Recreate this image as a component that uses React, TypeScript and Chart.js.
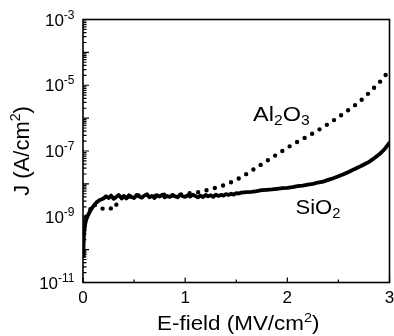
import React, { useEffect, useRef } from "react";
import { Chart, registerables } from "chart.js";

Chart.register(...registerables);

// SiO2 (solid line)
const E_SIO2 = [
  0, 0.005, 0.01, 0.02, 0.03, 0.05, 0.07, 0.1, 0.13, 0.16,
  0.2, 0.225, 0.25, 0.275, 0.3, 0.325, 0.35, 0.375, 0.4, 0.425, 0.45, 0.475, 0.5, 0.525, 0.55,
  0.575, 0.6, 0.625, 0.65, 0.675, 0.7, 0.725, 0.75, 0.775, 0.8, 0.825, 0.85, 0.875, 0.9, 0.925,
  0.95, 0.975, 1.0, 1.025, 1.05, 1.075, 1.1, 1.125, 1.15, 1.175, 1.2, 1.225, 1.25, 1.275, 1.3,
  1.325, 1.35, 1.375, 1.4, 1.425, 1.45, 1.475, 1.5, 1.525, 1.55,
  1.6, 1.65, 1.7, 1.75, 1.8, 1.85, 1.9, 1.95, 2.0, 2.05, 2.1, 2.15, 2.2,
  2.25, 2.3, 2.35, 2.4, 2.45, 2.5, 2.55, 2.6, 2.65, 2.7, 2.75, 2.8, 2.85, 2.9, 2.95, 3.0,
];
const J_SIO2 = [
  6.3e-11, 1.26e-10, 3.16e-10, 5.6e-10, 7.9e-10, 1.12e-9, 1.51e-9, 2.09e-9, 2.69e-9, 3.16e-9,
  3.6e-9, 4.2e-9, 3.7e-9, 4.4e-9, 3.5e-9, 4.0e-9, 4.6e-9, 3.8e-9, 4.3e-9, 3.6e-9, 4.5e-9, 4.0e-9,
  3.7e-9, 4.6e-9, 4.1e-9, 3.8e-9, 4.4e-9, 4.8e-9, 3.9e-9, 4.3e-9, 3.7e-9, 4.5e-9, 4.1e-9, 4.7e-9,
  3.9e-9, 4.3e-9, 4.0e-9, 4.6e-9, 4.2e-9, 3.9e-9, 4.7e-9, 4.2e-9, 4.0e-9, 4.5e-9, 4.1e-9, 4.7e-9,
  4.3e-9, 3.9e-9, 4.4e-9, 4.0e-9, 4.6e-9, 4.2e-9, 4.5e-9, 4.0e-9, 4.7e-9, 4.3e-9, 4.6e-9, 4.4e-9,
  4.9e-9, 4.6e-9, 5.0e-9, 4.7e-9, 5.2e-9, 5.1e-9, 5.4e-9,
  5.62e-9, 5.75e-9, 6.03e-9, 6.46e-9, 6.61e-9, 6.76e-9, 7.08e-9, 7.41e-9, 7.59e-9, 7.94e-9,
  8.51e-9, 8.91e-9, 9.55e-9, 1.0e-8, 1.1e-8, 1.17e-8, 1.32e-8, 1.48e-8, 1.7e-8, 1.95e-8, 2.29e-8,
  2.75e-8, 3.24e-8, 3.89e-8, 4.68e-8, 6.03e-8, 7.94e-8, 1.12e-7, 1.78e-7,
];

// Al2O3 (dotted line)
const E_AL2O3 = [
  0.03, 0.06, 0.1, 0.15, 0.2, 0.25, 0.3, 0.35, 0.4, 0.5, 0.6, 0.7, 0.8, 0.9, 1.0, 1.1, 1.2, 1.3,
  1.4, 1.5, 1.6, 1.7, 1.8, 1.9, 2.0, 2.1, 2.2, 2.3, 2.4, 2.5, 2.6, 2.7, 2.8, 2.9, 3.0,
];
const J_AL2O3 = [
  1e-9, 1.41e-9, 2.51e-9, 1.91e-9, 1.74e-9, 1.91e-9, 1.66e-9, 3.16e-9, 3.98e-9, 4.17e-9, 4.79e-9,
  4.37e-9, 4.68e-9, 4.37e-9, 5.01e-9, 5.37e-9, 6.31e-9, 7.59e-9, 9.55e-9, 1.32e-8, 2.0e-8,
  3.16e-8, 5.01e-8, 7.94e-8, 1.26e-7, 1.91e-7, 2.82e-7, 4.27e-7, 6.61e-7, 1.07e-6, 1.78e-6,
  3.02e-6, 5.89e-6, 1.2e-5, 2.82e-5,
];

const X_TICK_LABELS = [0, 1, 2, 3];
const X_MINOR = [0.5, 1.5, 2.5];
const Y_LABEL_EXPONENTS = [-3, -5, -7, -9, -11];
const Y_DECADES = [-11, -10, -9, -8, -7, -6, -5, -4, -3];

const FONT = '"Liberation Sans", Arial, Helvetica, sans-serif';

function drawRich(
  ctx: CanvasRenderingContext2D,
  parts: { t: string; size: number; dy: number }[],
  x: number,
  y: number,
  align: "left" | "center" | "right",
  sx = 1
) {
  let total = 0;
  const widths = parts.map((p) => {
    ctx.font = `${p.size}px ${FONT}`;
    const w = ctx.measureText(p.t).width;
    total += w;
    return w;
  });
  ctx.save();
  ctx.translate(x, y);
  ctx.scale(sx, 1);
  let cx = align === "left" ? 0 : align === "center" ? -total / 2 : -total;
  ctx.textAlign = "left";
  ctx.textBaseline = "alphabetic";
  parts.forEach((p, i) => {
    ctx.font = `${p.size}px ${FONT}`;
    ctx.fillText(p.t, cx, p.dy);
    cx += widths[i];
  });
  ctx.restore();
}

const framePlugin = {
  id: "frame",
  afterDraw(chart: any) {
    const { ctx, chartArea } = chart;
    const xs = chart.scales.x;
    const ys = chart.scales.y;
    const { left, right, top, bottom } = chartArea;
    ctx.save();
    ctx.strokeStyle = "#000";
    ctx.fillStyle = "#000";
    ctx.lineWidth = 1.6;
    ctx.strokeRect(left, top, right - left, bottom - top);

    ctx.lineWidth = 1.2;
    ctx.beginPath();
    Y_DECADES.forEach((d) => {
      for (let m = 1; m <= 9; m++) {
        if (d === -3 && m > 1) break;
        const v = m * Math.pow(10, d);
        const py = ys.getPixelForValue(v);
        const len = m === 1 ? 6 : 3.5;
        ctx.moveTo(left, py);
        ctx.lineTo(left + len, py);
      }
    });
    X_TICK_LABELS.forEach((v) => {
      const px = xs.getPixelForValue(v);
      ctx.moveTo(px, bottom);
      ctx.lineTo(px, bottom - 5);
    });
    X_MINOR.forEach((v) => {
      const px = xs.getPixelForValue(v);
      ctx.moveTo(px, bottom);
      ctx.lineTo(px, bottom - 3);
    });
    ctx.stroke();

    // y tick labels
    Y_LABEL_EXPONENTS.forEach((e) => {
      const py = ys.getPixelForValue(Math.pow(10, e));
      drawRich(
        ctx,
        [
          { t: "10", size: 17, dy: 6 },
          { t: String(e), size: 12, dy: -1 },
        ],
        left - 8.5,
        py,
        "right"
      );
    });
    // x tick labels
    X_TICK_LABELS.forEach((v) => {
      const px = xs.getPixelForValue(v);
      drawRich(ctx, [{ t: String(v), size: 17, dy: 0 }], px, bottom + 20.5, "center");
    });

    // x title
    drawRich(
      ctx,
      [
        { t: "E-field (MV/cm", size: 20, dy: 0 },
        { t: "2", size: 13, dy: -8 },
        { t: ")", size: 20, dy: 0 },
      ],
      (left + right) / 2 + 2,
      bottom + 47,
      "center",
      1.12
    );

    // y title
    ctx.save();
    ctx.translate(28.5, (top + bottom) / 2);
    ctx.rotate(-Math.PI / 2);
    drawRich(
      ctx,
      [
        { t: "J (A/cm", size: 22, dy: 0 },
        { t: "2", size: 14, dy: -9 },
        { t: ")", size: 22, dy: 0 },
      ],
      0,
      0,
      "center"
    );
    ctx.restore();

    // series labels
    drawRich(
      ctx,
      [
        { t: "Al", size: 21, dy: 0 },
        { t: "2", size: 14, dy: 4 },
        { t: "O", size: 21, dy: 0 },
        { t: "3", size: 14, dy: 4 },
      ],
      253,
      121,
      "left",
      1.12
    );
    drawRich(
      ctx,
      [
        { t: "SiO", size: 21, dy: 0 },
        { t: "2", size: 14, dy: 4 },
      ],
      295.5,
      213.5,
      "left",
      1.05
    );
    ctx.restore();
  },
};

export default function App() {
  const ref = useRef<HTMLCanvasElement | null>(null);
  useEffect(() => {
    if (!ref.current) return;
    const chart = new Chart(ref.current, {
      type: "line",
      data: {
        datasets: [
          {
            label: "Al2O3",
            data: E_AL2O3.map((x, i) => ({ x, y: J_AL2O3[i] })),
            borderColor: "#000",
            borderWidth: 4.4,
            borderDash: [0, 8.6],
            borderCapStyle: "round",
            pointRadius: 0,
            tension: 0,
            fill: false,
          },
          {
            label: "SiO2",
            data: E_SIO2.map((x, i) => ({ x, y: J_SIO2[i] })),
            borderColor: "#000",
            borderWidth: 3.8,
            borderJoinStyle: "round",
            borderCapStyle: "round",
            pointRadius: 0,
            tension: 0,
            fill: false,
          },
        ],
      },
      options: {
        responsive: false,
        animation: false,
        layout: { padding: { left: 83, right: 4.5, top: 19.5, bottom: 53.5 } },
        plugins: { legend: { display: false }, tooltip: { enabled: false } },
        scales: {
          x: { type: "linear", min: 0, max: 3, display: false },
          y: { type: "logarithmic", min: 1e-11, max: 1e-3, display: false },
        },
      },
      plugins: [framePlugin],
    } as any);
    return () => chart.destroy();
  }, []);
  return (
    <div style={{ position: "fixed", left: 0, top: 0, width: 394, height: 336, background: "#fff" }}>
      <canvas ref={ref} width={394} height={336} style={{ display: "block" }} />
    </div>
  );
}
